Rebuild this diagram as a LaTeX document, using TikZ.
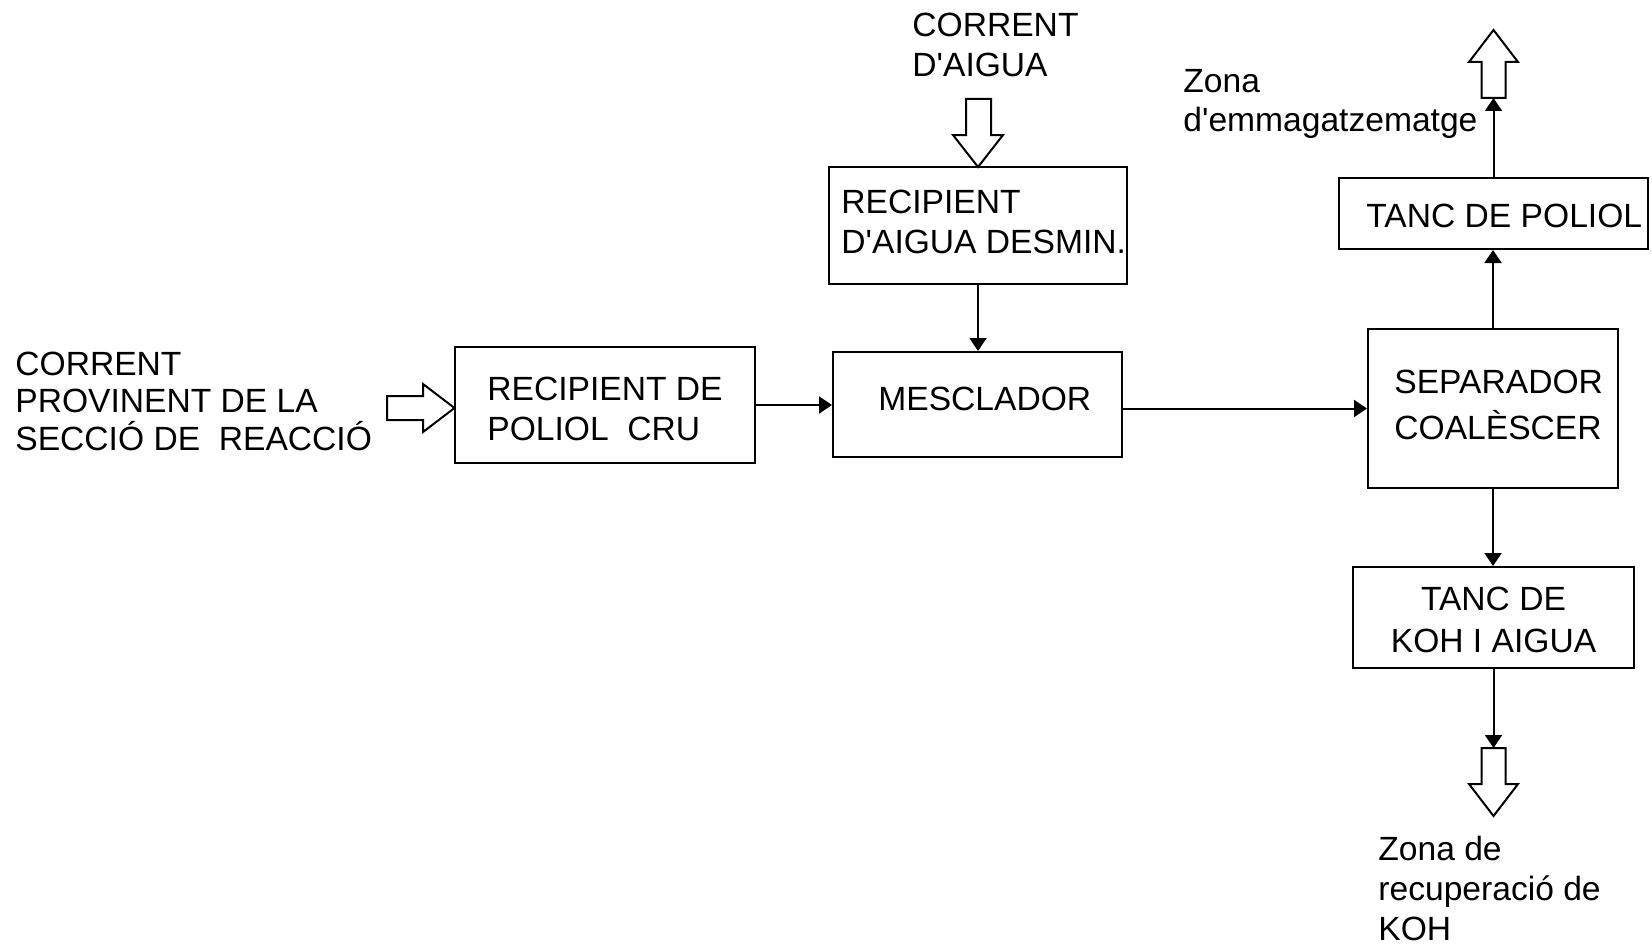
\documentclass[tikz,border=0pt]{standalone}
\usepackage{fontspec}
\setmainfont{Liberation Sans}
\usetikzlibrary{arrows.meta}
\newcommand\myapos{\textquotesingle}
\begin{document}
\begin{tikzpicture}[x=0.5pt,y=-0.5pt,
  box/.style={draw, line width=1pt, inner sep=0pt, rectangle},
  lbl/.style={inner sep=0pt, anchor=base west, align=left, font=\fontsize{16.8}{20}\selectfont},
  conn/.style={line width=1pt, -{Triangle[length=6.5pt,width=8.5pt]}},
  blockarrow/.style={draw, line width=1pt, fill=white, line join=miter}]
\useasboundingbox (0,0) rectangle (1652,947);

% boxes
\node[box, minimum width=150pt, minimum height=58pt] (crude) at (604.5,405) {};
\node[box, minimum width=144.5pt, minimum height=52.5pt] (mescl) at (977.5,404.5) {};
\node[box, minimum width=149pt, minimum height=58.5pt] (aigua) at (978,225.5) {};
\node[box, minimum width=125pt, minimum height=79.5pt] (sep) at (1493,408.5) {};
\node[box, minimum width=154.5pt, minimum height=35.5pt] (tancpol) at (1493.5,213.5) {};
\node[box, minimum width=140.5pt, minimum height=50.5pt] (koh) at (1493.5,617.5) {};

% texts (anchor = baseline of the last line)
\node[lbl] (tcrude) at (487,440) {RECIPIENT DE\\POLIOL\ \ CRU};
\node[lbl] (tmescl) at (878,410) {MESCLADOR};
\node[lbl] (taigua) at (841,253) {RECIPIENT\\D\myapos AIGUA DESMIN.};
\node[lbl, font=\fontsize{16.8}{23}\selectfont] (tsep) at (1394,439) {SEPARADOR\\COALÈSCER};
\node[lbl] (ttancpol) at (1366,227) {TANC DE POLIOL};
\node[lbl, anchor=base, align=center, font=\fontsize{16.8}{21}\selectfont] (tkoh) at (1493.5,652) {TANC DE\\KOH I AIGUA};
\node[lbl] (zonatop) at (1183,132) {Zona\\d\myapos emmagatzematge};
\node[lbl] (zonabot) at (1378,940) {Zona de\\recuperació de\\KOH};
\node[lbl] (corrtop) at (912,76) {CORRENT\\D\myapos AIGUA};
\node[lbl, font=\fontsize{16.8}{18.7}\selectfont] (corrleft) at (15,450) {CORRENT\\PROVINENT DE LA\\SECCIÓ DE\ \ REACCIÓ};

% block arrows
\draw[blockarrow] (966,99) -- (991,99) -- (991,135) -- (1003,135) -- (978,167) -- (953,135) -- (966,135) -- cycle;
\draw[blockarrow] (1481.5,98) -- (1481.5,62) -- (1469,62) -- (1493.5,30) -- (1518,62) -- (1505.5,62) -- (1505.5,98) -- cycle;
\draw[blockarrow] (1481.5,748) -- (1505.5,748) -- (1505.5,784) -- (1518,784) -- (1493.5,816) -- (1469,784) -- (1481.5,784) -- cycle;
\draw[blockarrow] (387,396) -- (423,396) -- (423,384) -- (454.5,408) -- (423,432) -- (423,420) -- (387,420) -- cycle;

% connectors
\coordinate (outtop) at (1493.5,98);
\coordinate (outbot) at (1493.5,748);
\draw[conn] (crude.east) -- (crude.east -| mescl.west);
\draw[conn] (mescl.east |- sep.west) -- (sep.west);
\draw[conn] (aigua.south) -- (aigua.south |- mescl.north);
\draw[conn] (sep.north) -- (sep.north |- tancpol.south);
\draw[conn] (tancpol.north) -- (outtop);
\draw[conn] (sep.south) -- (sep.south |- koh.north);
\draw[conn] (koh.south) -- (outbot);
\end{tikzpicture}
\end{document}
